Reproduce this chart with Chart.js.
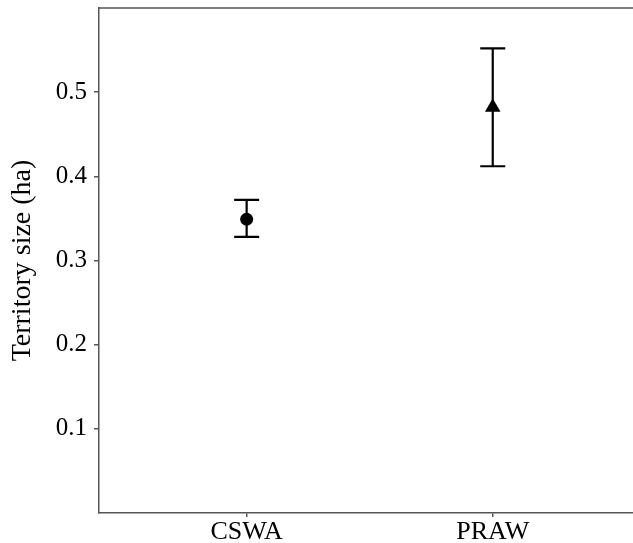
<!DOCTYPE html>
<html lang="en">
  <head>
    <meta charset="UTF-8" />
    <title>Territory size</title>
    <script src="https://cdn.jsdelivr.net/npm/chart.js"></script>
    <style>
      html, body { margin: 0; padding: 0; background: #fff; overflow: hidden; }
      canvas { display: block; }
    </style>
  </head>
  <body>
    <canvas id="myCanvas" width="633" height="543"></canvas>
    <script>
      // dados
      const especies = ["CSWA", "PRAW"];
      const posicoes = [1, 2];
      const medias = [0.349, 0.482];
      const limInf = [0.328, 0.412];
      const limSup = [0.372, 0.552];
      const estilos = ["circle", "triangle"];
      const raios = [6.5, 9];
      const yTicks = [0.1, 0.2, 0.3, 0.4, 0.5];

      const fonte = "'Liberation Serif', 'Times New Roman', serif";

      // sem folga extra das escalas
      function semPadding(s) {
        s.paddingTop = 0;
        s.paddingBottom = 0;
        s.paddingLeft = 0;
        s.paddingRight = 0;
      }

      // barras de erro desenhadas pelas escalas do chart
      const barrasErro = {
        id: "barrasErro",
        beforeDatasetsDraw(chart) {
          const ctx = chart.ctx;
          const x = chart.scales.x;
          const y = chart.scales.y;
          ctx.save();
          ctx.strokeStyle = "#000";
          ctx.lineWidth = 2.2;
          for (let i = 0; i < posicoes.length; i++) {
            const px = x.getPixelForValue(posicoes[i]);
            const y1 = y.getPixelForValue(limInf[i]);
            const y2 = y.getPixelForValue(limSup[i]);
            ctx.beginPath();
            ctx.moveTo(px, y1);
            ctx.lineTo(px, y2);
            ctx.moveTo(px - 12.5, y1);
            ctx.lineTo(px + 12.5, y1);
            ctx.moveTo(px - 12.5, y2);
            ctx.lineTo(px + 12.5, y2);
            ctx.stroke();
          }
          ctx.restore();
        },
        afterDraw(chart) {
          // linha de cima do painel
          const a = chart.chartArea;
          const ctx = chart.ctx;
          ctx.save();
          ctx.strokeStyle = "#555";
          ctx.lineWidth = 1.5;
          ctx.beginPath();
          ctx.moveTo(a.left, a.top);
          ctx.lineTo(a.right, a.top);
          ctx.stroke();
          ctx.restore();
        },
      };

      const dados = {
        datasets: [
          {
            label: "Territory size",
            data: posicoes.map((p, i) => ({ x: p, y: medias[i] })),
            pointStyle: estilos,
            pointRadius: raios,
            pointHoverRadius: raios,
            backgroundColor: "#000",
            borderColor: "#000",
            borderWidth: 0,
          },
        ],
      };

      const config = {
        type: "scatter",
        data: dados,
        options: {
          responsive: false,
          animation: false,
          layout: { autoPadding: false, padding: { top: 8, right: 0, left: 0, bottom: 0 } },
          scales: {
            x: {
              type: "linear",
              min: 0.4,
              max: 2.57,
              afterFit: (s) => { s.height = 30; semPadding(s); },
              afterBuildTicks: (s) => { s.ticks = posicoes.map((v) => ({ value: v })); },
              grid: { display: true, drawOnChartArea: false, drawTicks: true, tickLength: 4, color: "#555", lineWidth: 1.5 },
              border: { display: true, color: "#555", width: 1.5 },
              ticks: {
                color: "#000",
                padding: 0,
                font: { family: fonte, size: 26 },
                callback: (v) => especies[posicoes.indexOf(v)],
              },
            },
            y: {
              min: 0,
              max: 0.6,
              afterFit: (s) => { s.width = 99; semPadding(s); },
              afterBuildTicks: (s) => { s.ticks = yTicks.map((v) => ({ value: v })); },
              grid: { display: true, drawOnChartArea: false, drawTicks: true, tickLength: 5, color: "#555", lineWidth: 1.5 },
              border: { display: true, color: "#555", width: 1.5 },
              ticks: {
                color: "#000",
                padding: 7,
                font: { family: fonte, size: 25 },
                callback: (v) => v.toFixed(1),
              },
              title: {
                display: true,
                text: "Territory size (ha)",
                color: "#000",
                font: { family: fonte, size: 28 },
                padding: { top: 6, bottom: 0 },
              },
            },
          },
          plugins: {
            legend: { display: false },
            tooltip: { enabled: false },
          },
        },
        plugins: [barrasErro],
      };

      new Chart(document.getElementById("myCanvas"), config);
    </script>
  </body>
</html>
